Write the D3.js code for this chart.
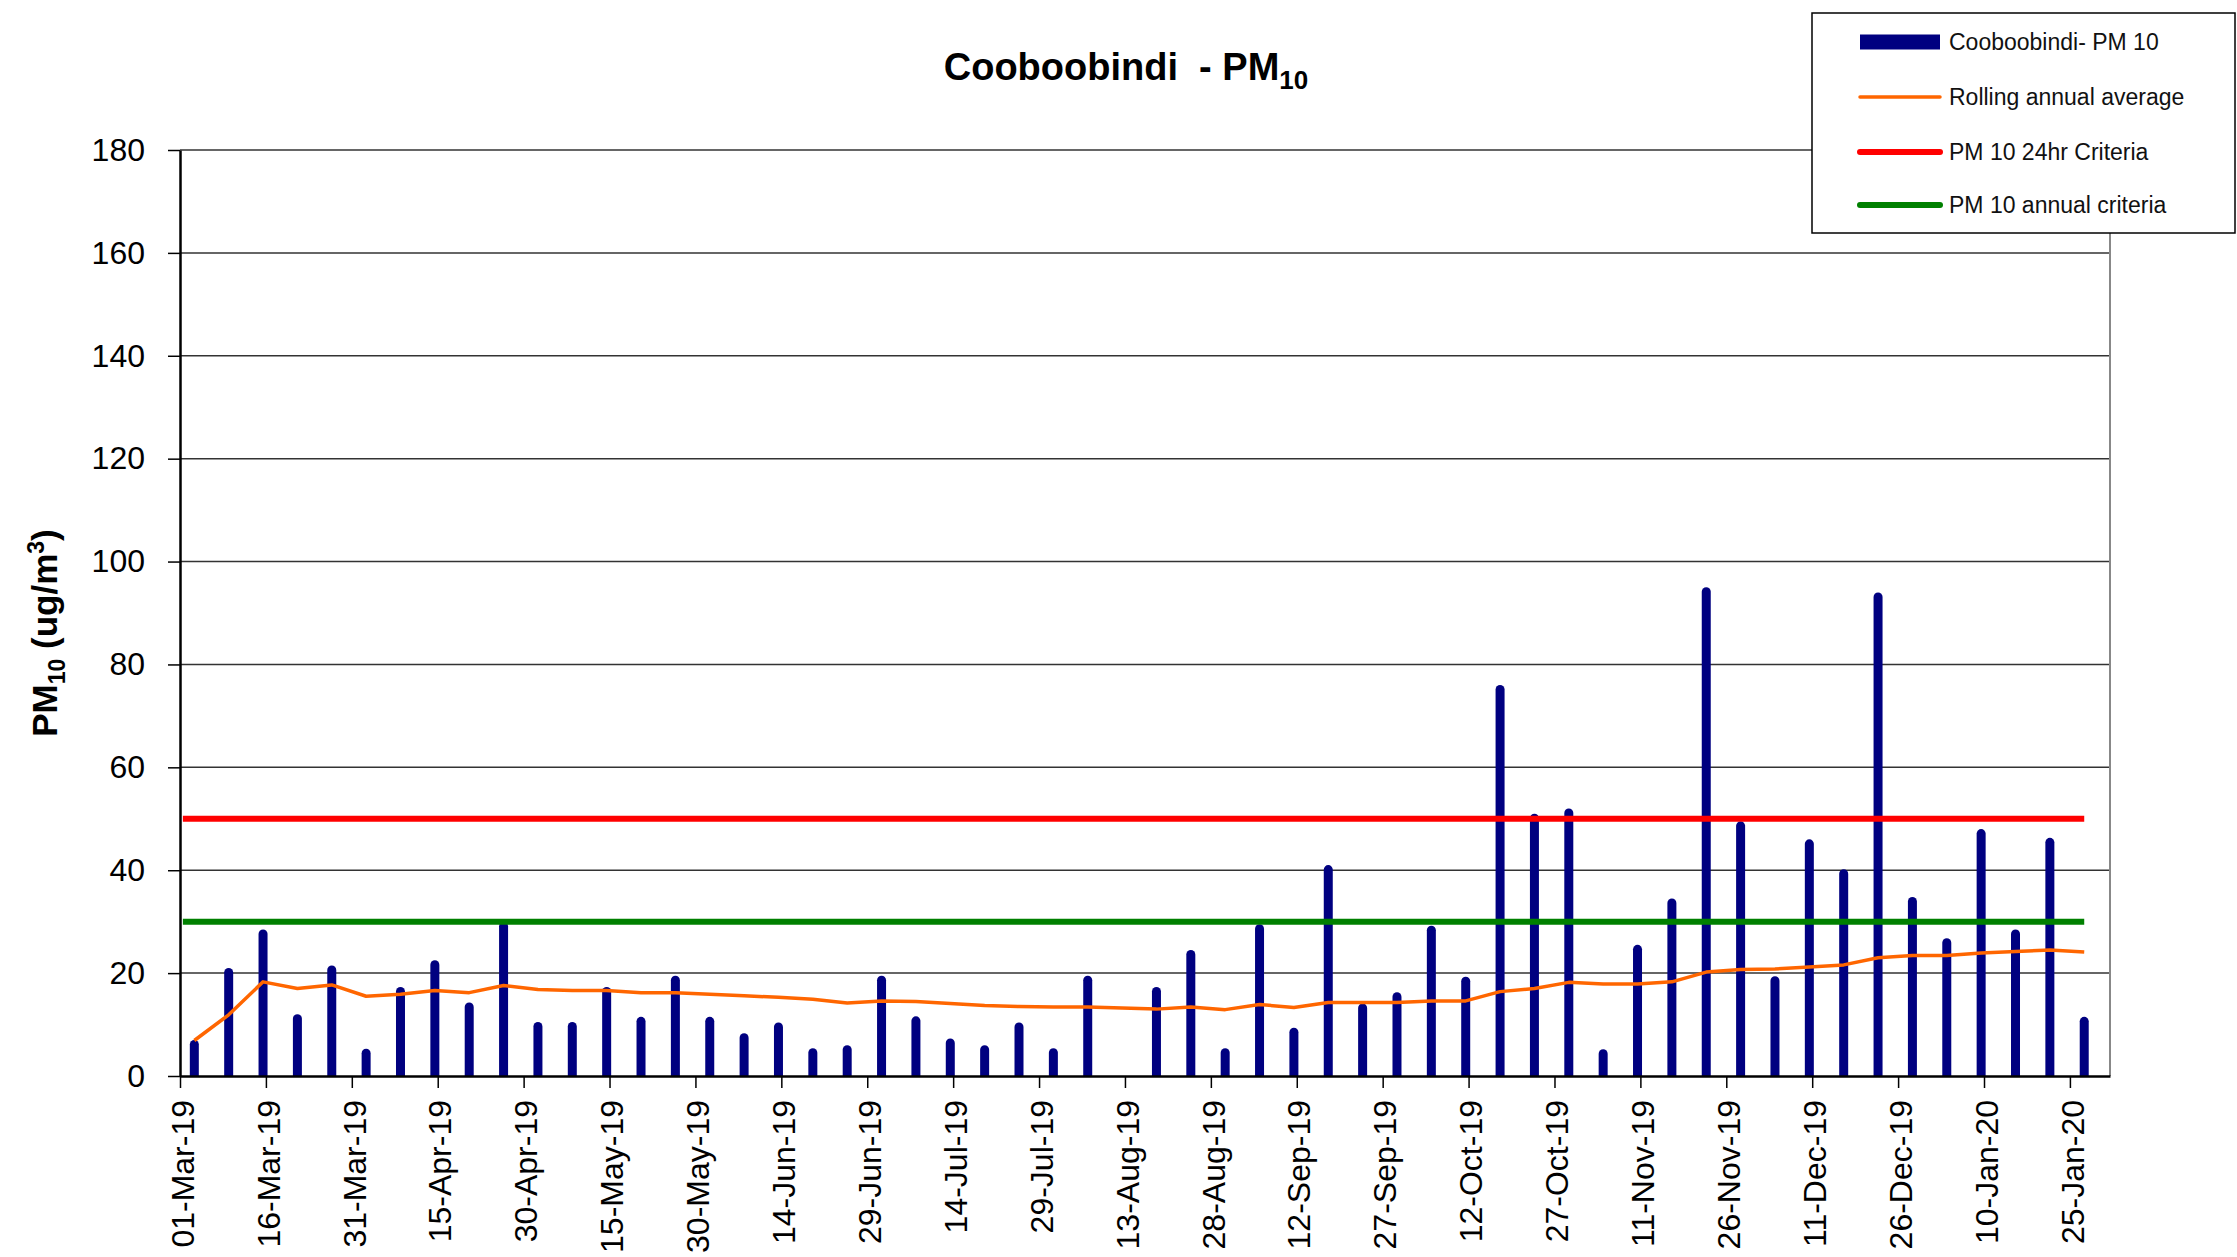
<!DOCTYPE html>
<html lang="en">
<head>
<meta charset="UTF-8">
<title>Cooboobindi - PM10</title>
<script src="https://cdn.jsdelivr.net/npm/d3@7"></script>
<style>
  body { margin: 0; background: #fff; }
  text { font-family: "Liberation Sans", Arial, sans-serif; }
</style>
</head>
<body>
<div id="chart"></div>
<script>
// sample dates (one every 6th day)
const sampleDates = [
  '03-Mar-19','09-Mar-19','15-Mar-19','21-Mar-19','27-Mar-19','02-Apr-19','08-Apr-19','14-Apr-19',
  '20-Apr-19','26-Apr-19','02-May-19','08-May-19','14-May-19','20-May-19','26-May-19','01-Jun-19',
  '07-Jun-19','13-Jun-19','19-Jun-19','25-Jun-19','01-Jul-19','07-Jul-19','13-Jul-19','19-Jul-19',
  '25-Jul-19','31-Jul-19','06-Aug-19','12-Aug-19','18-Aug-19','24-Aug-19','30-Aug-19','05-Sep-19',
  '11-Sep-19','17-Sep-19','23-Sep-19','29-Sep-19','05-Oct-19','11-Oct-19','17-Oct-19','23-Oct-19',
  '29-Oct-19','04-Nov-19','10-Nov-19','16-Nov-19','22-Nov-19','28-Nov-19','04-Dec-19','10-Dec-19',
  '16-Dec-19','22-Dec-19','28-Dec-19','03-Jan-20','09-Jan-20','15-Jan-20','21-Jan-20','27-Jan-20'
];
const pm10 = [
  7, 21, 28.5, 12, 21.5, 5.3, 17.3, 22.5,
  14.3, 30, 10.5, 10.5, 17.3, 11.5, 19.5, 11.5,
  8.3, 10.4, 5.4, 6, 19.5, 11.6, 7.3, 6,
  10.4, 5.4, 19.5, null, 17.3, 24.5, 5.4, 29.5,
  9.4, 41, 14.1, 16.3, 29.2, 19.3, 76, 51,
  52, 5.2, 25.5, 34.5, 95, 49.5, 19.4, 46,
  40.2, 94, 34.8, 26.8, 48, 28.5, 46.3, 11.5
];
const rollingAvg = [
  6.9, 11.9, 18.3, 17.0, 17.7, 15.5, 15.9, 16.6,
  16.2, 17.6, 16.8, 16.6, 16.6, 16.2, 16.2, 15.9,
  15.6, 15.3, 14.9, 14.2, 14.6, 14.5, 14.1, 13.7,
  13.5, 13.4, 13.4, 13.2, 13.0, 13.4, 12.9, 13.9,
  13.3, 14.3, 14.3, 14.3, 14.6, 14.6, 16.4, 17.0,
  18.2, 17.9, 17.9, 18.3, 20.2, 20.7, 20.8, 21.2,
  21.6, 23.0, 23.4, 23.4, 23.9, 24.2, 24.5, 24.1
];
const criteriaDates = ['01-Mar-19', '27-Jan-20'];
const criteria24hr = [50, 50];
const criteriaAnnual = [30, 30];

const xDomain = ['01-Mar-19', '01-Feb-20'];
const xTickLabels = ['01-Mar-19','16-Mar-19','31-Mar-19','15-Apr-19','30-Apr-19','15-May-19','30-May-19',
  '14-Jun-19','29-Jun-19','14-Jul-19','29-Jul-19','13-Aug-19','28-Aug-19','12-Sep-19','27-Sep-19',
  '12-Oct-19','27-Oct-19','11-Nov-19','26-Nov-19','11-Dec-19','26-Dec-19','10-Jan-20','25-Jan-20'];
const yTicks = [0, 20, 40, 60, 80, 100, 120, 140, 160, 180];

const W = 2237, H = 1257;
const margin = {top: 150, right: 127, bottom: 181, left: 180};
const width = W - margin.left - margin.right,
      height = H - margin.top - margin.bottom;

const parse = d3.timeParse('%d-%b-%y');
const mid = d => d3.timeHour.offset(parse(d), 12);   // excel puts the point in the middle of the day

const svg = d3.select('#chart').append('svg')
    .attr('width', W).attr('height', H)
    .style('background', '#fff');
const g = svg.append('g').attr('transform', `translate(${margin.left},${margin.top})`);

const x = d3.scaleTime().domain(xDomain.map(parse)).range([0, width]);
const y = d3.scaleLinear().domain([0, 180]).range([height, 0]);

// gridlines
g.append('g').selectAll('line')
  .data(yTicks.filter(t => t > 0))
  .join('line')
    .attr('x1', 0).attr('x2', width)
    .attr('y1', d => y(d)).attr('y2', d => y(d))
    .attr('stroke', '#333').attr('stroke-width', 1.5);

// right border
g.append('line')
  .attr('x1', width).attr('x2', width).attr('y1', 0).attr('y2', height)
  .attr('stroke', '#888').attr('stroke-width', 2);

// bars, rounded top
const bw = 9, r = 4.5;
const data = sampleDates.map((d, i) => ({date: d, v: pm10[i], avg: rollingAvg[i]}));
g.append('g').selectAll('path')
  .data(data.filter(d => d.v != null))
  .join('path')
    .attr('fill', '#000080')
    .attr('d', d => {
      const x0 = x(mid(d.date)) - bw / 2, top = y(d.v), y0 = y(0);
      return `M${x0},${y0}L${x0},${top + r}A${r},${r} 0 0 1 ${x0 + bw},${top + r}L${x0 + bw},${y0}Z`;
    });

// rolling average
g.append('path')
  .datum(data)
  .attr('fill', 'none')
  .attr('stroke', '#FF6600')
  .attr('stroke-width', 3.5)
  .attr('stroke-linejoin', 'round')
  .attr('d', d3.line().x(d => x(mid(d.date))).y(d => y(d.avg)));

// criteria lines
const crit = (vals, color) => g.append('path')
  .datum(criteriaDates.map((d, i) => ({date: d, v: vals[i]})))
  .attr('fill', 'none')
  .attr('stroke', color)
  .attr('stroke-width', 6)
  .attr('d', d3.line().x(d => x(mid(d.date))).y(d => y(d.v)));
crit(criteria24hr, '#FF0000');
crit(criteriaAnnual, '#008000');

// axes
const yAxis = g.append('g')
  .call(d3.axisLeft(y).tickValues(yTicks).tickSize(12).tickSizeOuter(0).tickPadding(23));
yAxis.selectAll('text').attr('font-size', 32).attr('fill', '#000')
  .style('font-family', '"Liberation Sans", Arial, sans-serif');
yAxis.selectAll('line').attr('stroke', '#000').attr('stroke-width', 1.5);
yAxis.select('.domain').attr('stroke', '#000').attr('stroke-width', 2.5);

const xAxis = g.append('g')
  .attr('transform', `translate(0,${height})`)
  .call(d3.axisBottom(x).tickValues(xTickLabels.map(parse)).tickSize(12).tickSizeOuter(0)
    .tickFormat(d3.timeFormat('%d-%b-%y')));
xAxis.selectAll('text')
  .attr('font-size', 32).attr('fill', '#000')
  .style('font-family', '"Liberation Sans", Arial, sans-serif')
  .attr('transform', 'rotate(-90)')
  .attr('text-anchor', 'end')
  .attr('x', -24).attr('y', 2).attr('dy', '0.35em');
xAxis.selectAll('line').attr('stroke', '#000').attr('stroke-width', 1.5);
xAxis.select('.domain').attr('stroke', '#000').attr('stroke-width', 2.5);

// title
const title = svg.append('text')
  .attr('x', 1126).attr('y', 80)
  .attr('text-anchor', 'middle')
  .attr('font-size', 38).attr('font-weight', 'bold')
  .style('white-space', 'pre');
title.append('tspan').text('Cooboobindi  - PM');
title.append('tspan').attr('font-size', 26).attr('dy', 9).text('10');

// y axis title
const yt = svg.append('text')
  .attr('transform', 'translate(57,633) rotate(-90)')
  .attr('text-anchor', 'middle')
  .attr('font-size', 35).attr('font-weight', 'bold')
  .style('white-space', 'pre');
yt.append('tspan').text('PM');
yt.append('tspan').attr('font-size', 23).attr('dy', 8).text('10');
yt.append('tspan').attr('dy', -8).text(' (ug/m');
yt.append('tspan').attr('font-size', 23).attr('dy', -13).text('3');
yt.append('tspan').attr('dy', 13).text(')');

// legend
const legend = svg.append('g');
legend.append('rect')
  .attr('x', 1812).attr('y', 13).attr('width', 423).attr('height', 220)
  .attr('fill', '#fff').attr('stroke', '#000').attr('stroke-width', 1.5);
const legendItems = [
  {label: 'Cooboobindi- PM 10', color: '#000080', w: 15, cap: 'butt'},
  {label: 'Rolling annual average', color: '#FF6600', w: 3.5, cap: 'round'},
  {label: 'PM 10 24hr Criteria', color: '#FF0000', w: 6, cap: 'round'},
  {label: 'PM 10 annual criteria', color: '#008000', w: 6, cap: 'round'}
];
const rowY = [42, 97, 152, 205];
legendItems.forEach((it, i) => {
  legend.append('line')
    .attr('x1', 1860).attr('x2', 1940).attr('y1', rowY[i]).attr('y2', rowY[i])
    .attr('stroke', it.color).attr('stroke-width', it.w)
    .attr('stroke-linecap', it.cap);
  legend.append('text')
    .attr('x', 1949).attr('y', rowY[i]).attr('dy', '0.35em')
    .attr('font-size', 23).attr('fill', '#111')
    .text(it.label);
});
</script>
</body>
</html>
